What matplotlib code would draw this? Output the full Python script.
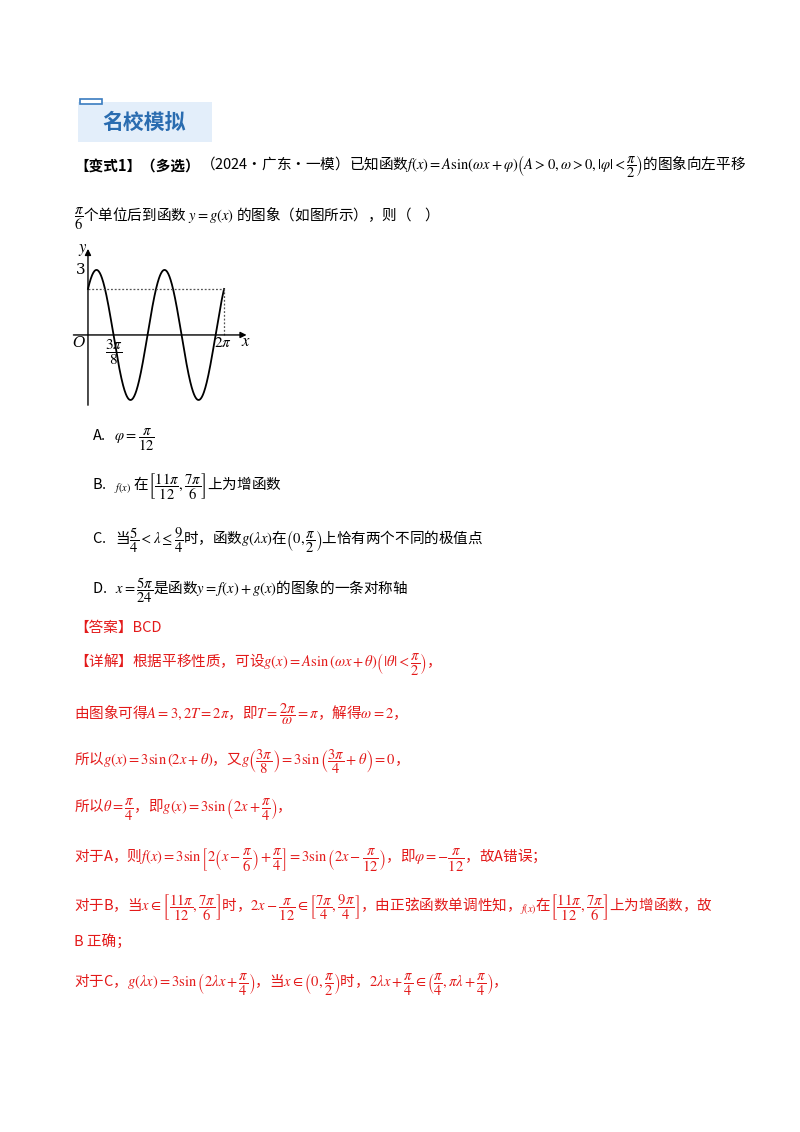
import numpy as np
import matplotlib
matplotlib.use("Agg")
import matplotlib.pyplot as plt
from matplotlib.patches import Rectangle

plt.rcParams['font.family'] = ['Noto Sans CJK SC', 'DejaVu Sans']
plt.rcParams['mathtext.fontset'] = 'stix'

# curve parameters: g(x) = A sin(w x + theta)
A = 3
omega = 2
theta = np.pi / 4
x_start, x_end = 0.0, 2 * np.pi
tick_labels = ["O", r"$\dfrac{3\pi}{8}$", r"$2\pi$", "3"]

W, H = 800, 1132
fig = plt.figure(figsize=(8, 11.32), dpi=100)

def T(x, y, s, color='black', size=10.5, weight='normal'):
    s = s.replace(r"\frac", r"\dfrac")
    fig.text(x / W, 1 - y / H, s, color=color, fontsize=size, weight=weight, va='center', ha='left')

# header
fig.patches.append(Rectangle((78 / W, 1 - 142 / H), 134 / W, 40 / H, transform=fig.transFigure,
                             facecolor='#e3eefa', edgecolor='none'))
fig.patches.append(Rectangle((80 / W, 1 - 104 / H), 22 / W, 5 / H, transform=fig.transFigure,
                             facecolor='white', edgecolor='#3a7cc0', lw=1.2))
T(102, 122, "名校模拟", color='#2a6cb0', size=15, weight='bold')

red = '#e31a1a'
T(74, 167, "【变式1】（多选）", weight='bold')
T(200, 167, r"（2024·广东·一模）已知函数$f(x)=A\sin(\omega x+\varphi)\left(A>0,\omega>0,|\varphi|<\frac{\pi}{2}\right)$的图象向左平移")
T(74, 218, r"$\frac{\pi}{6}$个单位后到函数 $y=g(x)$ 的图象（如图所示），则（    ）")

T(92, 440, r"A.   $\varphi=\frac{\pi}{12}$")
T(92, 487, r"B.   $_{f(x)}$ 在$\left[\frac{11\pi}{12},\frac{7\pi}{6}\right]$上为增函数")
T(92, 540, r"C.   当$\frac{5}{4}<\lambda\leq\frac{9}{4}$时，函数$g(\lambda x)$在$\left(0,\frac{\pi}{2}\right)$上恰有两个不同的极值点")
T(92, 590, r"D.   $x=\frac{5\pi}{24}$是函数$y=f(x)+g(x)$的图象的一条对称轴")

T(74, 628, "【答案】BCD", color=red)
T(74, 665, r"【详解】根据平移性质，可设$g\left(x\right)=A\sin\left(\omega x+\theta\right)\left(\left|\theta\right|<\frac{\pi}{2}\right)$，", color=red)
T(74, 714, r"由图象可得$A=3,2T=2\pi$，即$T=\frac{2\pi}{\omega}=\pi$，解得$\omega=2$，", color=red)
T(74, 762, r"所以$g\left(x\right)=3\sin\left(2x+\theta\right)$，又$g\left(\frac{3\pi}{8}\right)=3\sin\left(\frac{3\pi}{4}+\theta\right)=0$，", color=red)
T(74, 810, r"所以$\theta=\frac{\pi}{4}$，即$g\left(x\right)=3\sin\left(2x+\frac{\pi}{4}\right)$，", color=red)
T(74, 860, r"对于A，则$f\left(x\right)=3\sin\left[2\left(x-\frac{\pi}{6}\right)+\frac{\pi}{4}\right]=3\sin\left(2x-\frac{\pi}{12}\right)$，即$\varphi=-\frac{\pi}{12}$，故A错误；", color=red)
T(74, 908, r"对于B，当$x\in\left[\frac{11\pi}{12},\frac{7\pi}{6}\right]$时，$2x-\frac{\pi}{12}\in\left[\frac{7\pi}{4},\frac{9\pi}{4}\right]$，由正弦函数单调性知，$_{f(x)}$在$\left[\frac{11\pi}{12},\frac{7\pi}{6}\right]$上为增函数，故", color=red)
T(74, 942, "B 正确；", color=red)
T(74, 985, r"对于C，$g(\lambda x)=3\sin\left(2\lambda x+\frac{\pi}{4}\right)$，当$x\in\left(0,\frac{\pi}{2}\right)$时，$2\lambda x+\frac{\pi}{4}\in\left(\frac{\pi}{4},\pi\lambda+\frac{\pi}{4}\right)$，", color=red)

# chart
ax = fig.add_axes([70 / W, 1 - 408 / H, 180 / W, 163 / H])
ax.set_xlim(-0.83, 7.48)
ax.set_ylim(-3.37, 4.15)
ax.axis('off')
xs = np.linspace(x_start, x_end, 400)
ys = A * np.sin(omega * xs + theta)
ax.plot(xs, ys, color='black', lw=1.3)
y0 = A * np.sin(theta)
ax.plot([x_start, x_end], [y0, y0], ls=(0, (1.5, 1.5)), color='#555555', lw=0.9)
ax.plot([x_end, x_end], [0, y0], ls=(0, (1.5, 1.5)), color='#555555', lw=0.9)
ax.annotate('', xy=(7.45, 0), xytext=(-0.8, 0), arrowprops=dict(arrowstyle='-|>', color='black', lw=1, mutation_scale=9))
ax.annotate('', xy=(0, 4.1), xytext=(0, -3.37), arrowprops=dict(arrowstyle='-|>', color='black', lw=1, mutation_scale=9))
ax.text(-0.15, -0.35, tick_labels[0], fontsize=11, style='italic', ha='right', va='center', family='DejaVu Serif')
ax.text(3 * np.pi / 8, -0.8, tick_labels[1], fontsize=11, ha='center', va='center')
ax.text(2 * np.pi - 0.05, -0.35, tick_labels[2], fontsize=11, ha='center', va='center')
ax.text(-0.12, 3.0, tick_labels[3], fontsize=11, ha='right', va='center', family='DejaVu Serif')
ax.text(7.3, -0.3, r"$x$", fontsize=12, ha='center', va='center')
ax.text(-0.25, 3.95, r"$y$", fontsize=12, ha='center', va='center')

fig.savefig("out.png", dpi=100)
